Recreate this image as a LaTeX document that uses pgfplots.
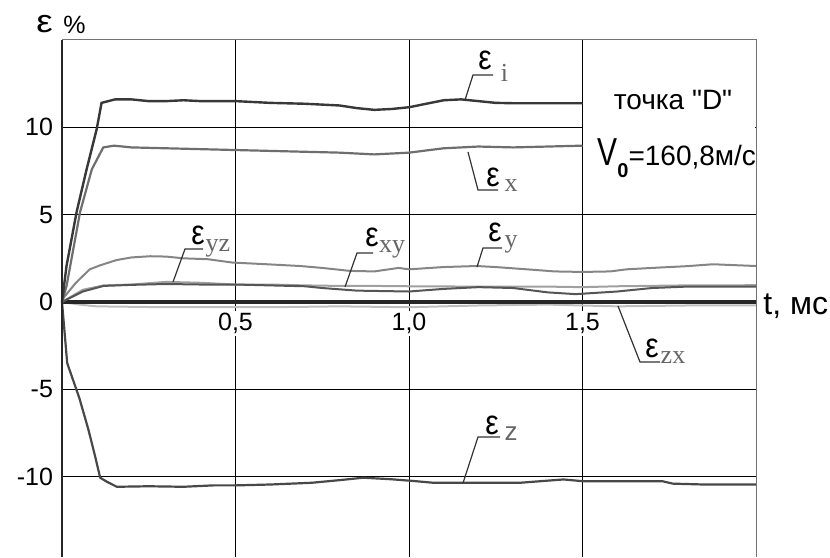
\documentclass[border=0pt]{standalone}
\usepackage{pgfplots}
\pgfplotsset{compat=1.18}
\usepackage{fontspec}
\setmainfont{Liberation Sans}
\newfontfamily\serif{Liberation Serif}
\definecolor{ci}{HTML}{383838}
\definecolor{cx}{HTML}{6E6E6E}
\definecolor{cy}{HTML}{858585}
\definecolor{cyz}{HTML}{A0A0A0}
\definecolor{cxy}{HTML}{555555}
\definecolor{czx}{HTML}{BDBDBD}
\definecolor{cz}{HTML}{484848}
\definecolor{sub}{HTML}{666666}
\newcommand\px[2]{({(#1-62)*0.5pt},{(557-#2)*0.5pt})}
\newcommand\eps{{\fontsize{15}{16}\selectfont\scalebox{1}[1.15]{ε}}}
\newcommand\sub[1]{{\serif\color{sub}\fontsize{13}{14}\selectfont #1}}
\begin{document}
\begin{tikzpicture}
\begin{axis}[
  scale only axis, width=347pt, height=258.5pt,
  xmin=0, xmax=2, ymin=-14.6, ymax=15,
  axis line style={draw=none},
  xtick={0.5,1,1.5}, xticklabels={},
  ytick={-10,-5,0,5,10}, yticklabels={-10,-5,0,5,10},
  major tick length=0pt,
  grid=major, grid style={black, line width=0.5pt},
  yticklabel style={font=\fontsize{12.5}{14}\selectfont, anchor=east, xshift=-1pt},
  clip=false,
]
\fill[white] ([xshift=0.3pt,yshift=0.3pt]axis cs:1.5,5) rectangle ([xshift=-0.3pt,yshift=-0.3pt]axis cs:2,15);
% eps_zx
\addplot[czx, line width=1pt] coordinates {(0,0) (0.05,-0.15) (0.1,-0.25) (0.3,-0.3) (0.6,-0.3) (0.8,-0.25) (1.0,-0.3) (1.2,-0.2) (1.4,-0.15) (1.6,-0.25) (1.8,-0.2) (2.0,-0.2)};
% zero line
\addplot[black!85, line width=1.6pt] coordinates {(0,0) (2,0)};
% eps_yz
\addplot[cyz, line width=1pt] coordinates {(0,0) (0.06,0.7) (0.12,0.95) (0.2,1.0) (0.3,1.15) (0.4,1.1) (0.5,1.0) (0.6,1.0) (0.7,0.95) (0.8,0.92) (0.9,0.92) (1.0,0.9) (1.2,0.88) (1.4,0.88) (1.5,0.85) (1.6,0.9) (1.8,0.95) (2.0,0.96)};
% eps_xy
\addplot[cxy, line width=1pt] coordinates {(0,0) (0.06,0.6) (0.12,0.92) (0.2,0.98) (0.3,1.03) (0.4,1.0) (0.5,1.0) (0.6,0.95) (0.7,0.9) (0.75,0.8) (0.85,0.65) (1.0,0.6) (1.1,0.75) (1.2,0.85) (1.3,0.8) (1.4,0.55) (1.48,0.45) (1.52,0.5) (1.6,0.6) (1.7,0.8) (1.8,0.88) (2.0,0.88)};
% eps_y
\addplot[cy, line width=1pt] coordinates {(0,0) (0.005,0.25) (0.04,1.1) (0.08,1.87) (0.11,2.1) (0.157,2.4) (0.2,2.55) (0.254,2.62) (0.3,2.6) (0.35,2.5) (0.42,2.45) (0.49,2.26) (0.55,2.2) (0.6,2.15) (0.686,2.06) (0.75,1.95) (0.83,1.78) (0.9,1.75) (0.97,1.95) (1.0,1.87) (1.1,2.0) (1.195,2.06) (1.25,2.0) (1.34,1.87) (1.42,1.75) (1.5,1.72) (1.58,1.75) (1.627,1.87) (1.7,1.95) (1.8,2.05) (1.876,2.16) (1.95,2.1) (2.0,2.06)};
% eps_x
\addplot[cx, line width=1.1pt] coordinates {(0,0) (0.013,0.9) (0.052,5.14) (0.086,7.6) (0.119,8.85) (0.15,8.95) (0.2,8.85) (0.3,8.8) (0.4,8.75) (0.5,8.7) (0.6,8.65) (0.7,8.6) (0.8,8.55) (0.9,8.45) (0.95,8.5) (1.0,8.55) (1.1,8.8) (1.2,8.9) (1.3,8.85) (1.4,8.9) (1.5,8.95)};
% eps_i
\addplot[ci, line width=1.2pt] coordinates {(0,0) (0.013,2.06) (0.042,5.14) (0.071,7.6) (0.1,9.9) (0.114,11.4) (0.153,11.6) (0.2,11.6) (0.25,11.5) (0.3,11.5) (0.35,11.55) (0.4,11.5) (0.45,11.5) (0.5,11.5) (0.55,11.45) (0.6,11.4) (0.7,11.35) (0.8,11.25) (0.85,11.1) (0.9,11.0) (0.95,11.05) (1.0,11.15) (1.05,11.35) (1.1,11.55) (1.15,11.6) (1.2,11.5) (1.25,11.4) (1.3,11.38) (1.4,11.38) (1.5,11.38)};
% eps_z
\addplot[cz, line width=1.1pt] coordinates {(0,0) (0.015,-3.5) (0.05,-5.5) (0.076,-7.3) (0.095,-8.8) (0.11,-10.06) (0.13,-10.3) (0.158,-10.58) (0.25,-10.55) (0.35,-10.58) (0.436,-10.5) (0.5,-10.5) (0.6,-10.45) (0.72,-10.35) (0.8,-10.2) (0.868,-10.06) (0.95,-10.15) (1.02,-10.26) (1.07,-10.35) (1.32,-10.35) (1.445,-10.16) (1.5,-10.26) (1.73,-10.26) (1.76,-10.4) (1.85,-10.45) (2.0,-10.45)};
% borders
\draw[black!85, line width=1.1pt] (rel axis cs:0,0) -- (rel axis cs:0,1);
\draw[black!55, line width=0.5pt] (rel axis cs:0,1) -- (rel axis cs:1,1) -- (rel axis cs:1,0);
% x tick labels
\node[fill=white, inner sep=1pt, font=\fontsize{12.5}{14}\selectfont] at ([yshift=-10.7pt]axis cs:0.5,0) {0,5};
\node[fill=white, inner sep=1pt, font=\fontsize{12.5}{14}\selectfont] at ([yshift=-10.7pt]axis cs:1,0) {1,0};
\node[fill=white, inner sep=1pt, font=\fontsize{12.5}{14}\selectfont] at ([yshift=-10.7pt]axis cs:1.5,0) {1,5};
\end{axis}
% axis names
\node[anchor=base west, inner sep=0pt, font=\fontsize{16}{18}\selectfont] at \px{36}{33} {\scalebox{1.15}[1]{ε}};
\node[anchor=base west, inner sep=0pt, font=\fontsize{12.5}{15}\selectfont] at \px{63}{34} {\%};
\node[anchor=base west, inner sep=0pt, font=\fontsize{16}{18}\selectfont] at \px{763}{315} {t, мс};
% text box
\node[inner sep=0pt, font=\fontsize{14}{16}\selectfont] at \px{673}{100} {\addfontfeatures{Ligatures=TeXOff}точка "D"};
\node[anchor=base west, inner sep=0pt] at \px{597}{166} {{\fontsize{15}{16}\selectfont\scalebox{1}[1.3]{V}}{\fontsize{10}{10}\selectfont\bfseries\raisebox{-6pt}{0}}{\fontsize{14}{16}\selectfont =160,8м/с}};
% labels with leaders
\begin{scope}[black!80, line width=0.6pt]
\draw \px{465}{100} -- \px{473}{75} -- \px{493}{75};
\draw \px{468}{152} -- \px{478}{190} -- \px{498}{190};
\draw \px{173}{282} -- \px{185}{249} -- \px{203}{249};
\draw \px{345}{287} -- \px{357}{253} -- \px{373}{253};
\draw \px{477}{267} -- \px{483}{248} -- \px{502}{248};
\draw \px{618}{306} -- \px{640}{362} -- \px{660}{362};
\draw \px{463}{483} -- \px{478}{437} -- \px{500}{437};
\end{scope}
\node[inner sep=0pt] at \px{485}{60} {\eps};
\node[inner sep=0pt] at \px{504.5}{72.5} {\sub{i}};
\node[inner sep=0pt] at \px{493}{177} {\eps};
\node[inner sep=0pt] at \px{511}{186} {\sub{x}};
\node[inner sep=0pt] at \px{198}{235} {\eps};
\node[inner sep=0pt] at \px{218}{248} {\sub{yz}};
\node[inner sep=0pt] at \px{372}{237} {\eps};
\node[inner sep=0pt] at \px{392}{249} {\sub{xy}};
\node[inner sep=0pt] at \px{495}{232} {\eps};
\node[inner sep=0pt] at \px{511}{244} {\sub{y}};
\node[inner sep=0pt] at \px{652}{348} {\eps};
\node[inner sep=0pt] at \px{673}{358} {\sub{zx}};
\node[inner sep=0pt] at \px{492}{425} {\eps};
\node[inner sep=0pt, text=sub, font=\fontsize{13}{14}\selectfont] at \px{511}{434} {z};
\pgfresetboundingbox
\useasboundingbox \px{0}{0} rectangle \px{830}{557};
\end{tikzpicture}
\end{document}
